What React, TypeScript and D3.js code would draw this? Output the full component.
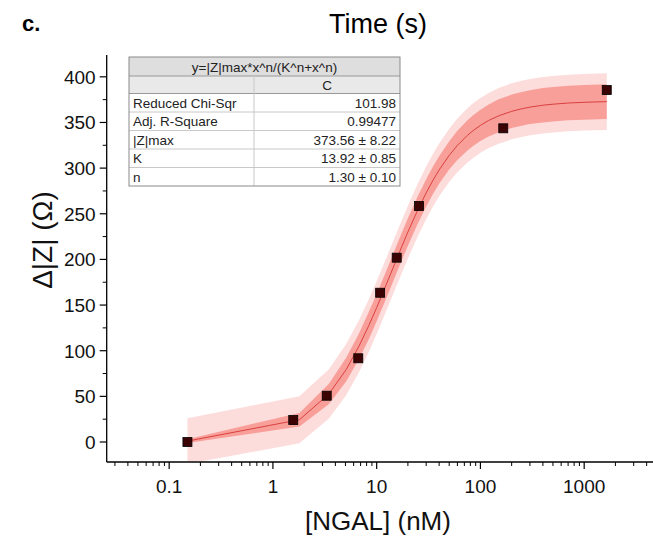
import React from "react"
import * as d3 from "d3"

// measured points
const concX = [0.15, 1.57, 3.3, 6.65, 10.8, 15.6, 25.6, 166, 1650]
const deltaZ = [0, 24, 50.7, 91.7, 163.5, 201.9, 258.5, 343.6, 385.5]

// fit curve, with half widths of the two bands
const fitX = [0.15, 1.8, 3.45, 5.1, 6.75, 8.4, 10, 12, 13.5, 15, 17.5, 20, 25, 30, 35, 40, 50, 60, 75, 85, 100, 120, 150, 200, 250, 300, 400, 500, 700, 1000, 1650]
const fitY = [1, 24.4, 52.4, 79.6, 104.9, 127.6, 147.2, 168.8, 183, 195.8, 214.4, 230, 254.6, 272.9, 287, 298, 314, 324.9, 335.9, 341.1, 346.8, 352.2, 357.3, 362.2, 365, 366.8, 368.9, 370, 371.3, 372.1, 372.8]
const confHalf = [2, 7.5, 11, 13, 14, 15, 15, 15, 15, 15, 15, 15, 15, 15, 15, 15, 15.5, 16, 16.5, 16.8, 17, 17.5, 18, 18.3, 18.5, 18.6, 18.8, 18.9, 19, 19, 19]
const predHalf = [25, 25.8, 27, 28, 28.5, 28.9, 28.9, 28.9, 28.9, 28.9, 28.9, 28.9, 28.9, 28.9, 28.9, 28.9, 29.2, 29.5, 29.8, 29.9, 30, 30.2, 30.5, 30.7, 30.8, 30.9, 31, 31, 31, 31, 31]

const yTicks = [0, 50, 100, 150, 200, 250, 300, 350, 400]
const yMinor = [25, 75, 125, 175, 225, 275, 325, 375]
const xTicks = [0.1, 1, 10, 100, 1000]
const xTickLabels = ["0.1", "1", "10", "100", "1000"]

const tableTitle = "y=|Z|max*x^n/(K^n+x^n)"
const tableCol = "C"
const tableNames = ["Reduced Chi-Sqr", "Adj. R-Square", "|Z|max", "K", "n"]
const tableValues = ["101.98", "0.99477", "373.56 ± 8.22", "13.92 ± 0.85", "1.30 ± 0.10"]

const W = 653
const H = 541
const font = "'Liberation Sans', Arial, sans-serif"

export default function App() {
  const x = d3.scaleLog().domain([0.025, 5000]).range([106.7, 656.7])
  const y = d3.scaleLinear().domain([-21.9, 423.9]).range([462, 55])

  const fit = fitX.map((v, i) => ({ x: v, y: fitY[i], c: confHalf[i], p: predHalf[i] }))

  // the fit is drawn as a polyline, like the original software does
  const predArea = d3.area<any>()
    .x(d => x(d.x))
    .y0(d => y(d.y - d.p))
    .y1(d => y(d.y + d.p))
  const confArea = d3.area<any>()
    .x(d => x(d.x))
    .y0(d => y(d.y - d.c))
    .y1(d => y(d.y + d.c))
  const fitLine = d3.line<any>()
    .x(d => x(d.x))
    .y(d => y(d.y))

  // minor ticks on the log axis
  var xMinor: number[] = []
  for (var e = -2; e <= 3; e++) {
    for (var m = 2; m <= 9; m++) {
      var v = m * Math.pow(10, e)
      if (v > 0.025 && v < 5000) xMinor.push(v)
    }
  }

  const axisLeft = x.range()[0]
  const axisBottom = y.range()[0]

  // table layout
  const tL = 129, tR = 400, tDiv = 254, tTop = 57
  const rowH = [19, 17.5, 18.5, 18.5, 18.5, 18.5, 18.5]
  var rowY = [tTop]
  rowH.forEach(h => rowY.push(rowY[rowY.length - 1] + h))

  return (
    <svg width={W} height={H} style={{ position: "absolute", left: 0, top: 0, background: "#fff" }} fontFamily={font}>
      <defs>
        <clipPath id="plotclip">
          <rect x={axisLeft} y={40} width={W - axisLeft} height={axisBottom - 41} />
        </clipPath>
      </defs>

      <text x={22} y={31} fontSize={22} fontWeight="bold">c.</text>
      <text x={378} y={33} fontSize={27} textAnchor="middle">Time (s)</text>

      <g clipPath="url(#plotclip)">
        <path d={predArea(fit) || ""} fill="#fddcdc" />
        <path d={confArea(fit) || ""} fill="#f99f9a" />
        <path d={fitLine(fit) || ""} fill="none" stroke="#d9403e" strokeWidth={1} />
      </g>

      {concX.map((c, i) => (
        <rect key={i} x={x(c) - 4.5} y={y(deltaZ[i]) - 4.5} width={9} height={9} fill="#3b0303" stroke="#000" strokeWidth={0.8} />
      ))}

      {/* table */}
      <g fontSize={13.5} fill="#222">
        <rect x={tL} y={rowY[0]} width={tR - tL} height={rowY[1] - rowY[0]} fill="#dedede" />
        <rect x={tL} y={rowY[1]} width={tR - tL} height={rowY[2] - rowY[1]} fill="#e9e9e9" />
        <rect x={tL} y={rowY[2]} width={tR - tL} height={rowY[7] - rowY[2]} fill="#fff" />
        {rowY.slice(1, 7).map((ry, i) => (
          <line key={i} x1={tL} x2={tR} y1={ry} y2={ry} stroke={i < 2 ? "#999" : "#c8c8c8"} strokeWidth={1} />
        ))}
        <line x1={tDiv} x2={tDiv} y1={rowY[1]} y2={rowY[7]} stroke="#c8c8c8" />
        <rect x={tL} y={rowY[0]} width={tR - tL} height={rowY[7] - rowY[0]} fill="none" stroke="#8a8a8a" strokeWidth={1} />
        <text x={(tL + tR) / 2} y={rowY[0] + 14.5} textAnchor="middle">{tableTitle}</text>
        <text x={(tDiv + tR) / 2} y={rowY[1] + 13.5} textAnchor="middle">{tableCol}</text>
        {tableNames.map((n, i) => (
          <g key={n}>
            <text x={tL + 4} y={rowY[i + 2] + 14}>{n}</text>
            <text x={tR - 4} y={rowY[i + 2] + 14} textAnchor="end">{tableValues[i]}</text>
          </g>
        ))}
      </g>

      {/* axes */}
      <line x1={axisLeft} x2={axisLeft} y1={y.range()[1]} y2={axisBottom} stroke="#000" strokeWidth={1.3} />
      <line x1={axisLeft} x2={W} y1={axisBottom} y2={axisBottom} stroke="#000" strokeWidth={1.3} />

      {yTicks.map(t => (
        <g key={t}>
          <line x1={axisLeft - 7} x2={axisLeft} y1={y(t)} y2={y(t)} stroke="#000" strokeWidth={1.2} />
          <text x={axisLeft - 11} y={y(t) + 7} fontSize={19} textAnchor="end" fill="#111">{t}</text>
        </g>
      ))}
      {yMinor.map(t => (
        <line key={t} x1={axisLeft - 4} x2={axisLeft} y1={y(t)} y2={y(t)} stroke="#000" strokeWidth={1} />
      ))}

      {xTicks.map((t, i) => (
        <g key={t}>
          <line x1={x(t)} x2={x(t)} y1={axisBottom} y2={axisBottom + 7} stroke="#000" strokeWidth={1.2} />
          <text x={x(t)} y={axisBottom + 31} fontSize={19} textAnchor="middle" fill="#111">{xTickLabels[i]}</text>
        </g>
      ))}
      {xMinor.map(t => (
        <line key={t} x1={x(t)} x2={x(t)} y1={axisBottom} y2={axisBottom + 4} stroke="#000" strokeWidth={1} />
      ))}

      <text x={378} y={530} fontSize={26} textAnchor="middle" fill="#111">[NGAL] (nM)</text>
      <text transform="translate(52,240) rotate(-90)" fontSize={28} textAnchor="middle" fill="#111">Δ|Z| (Ω)</text>
    </svg>
  )
}
